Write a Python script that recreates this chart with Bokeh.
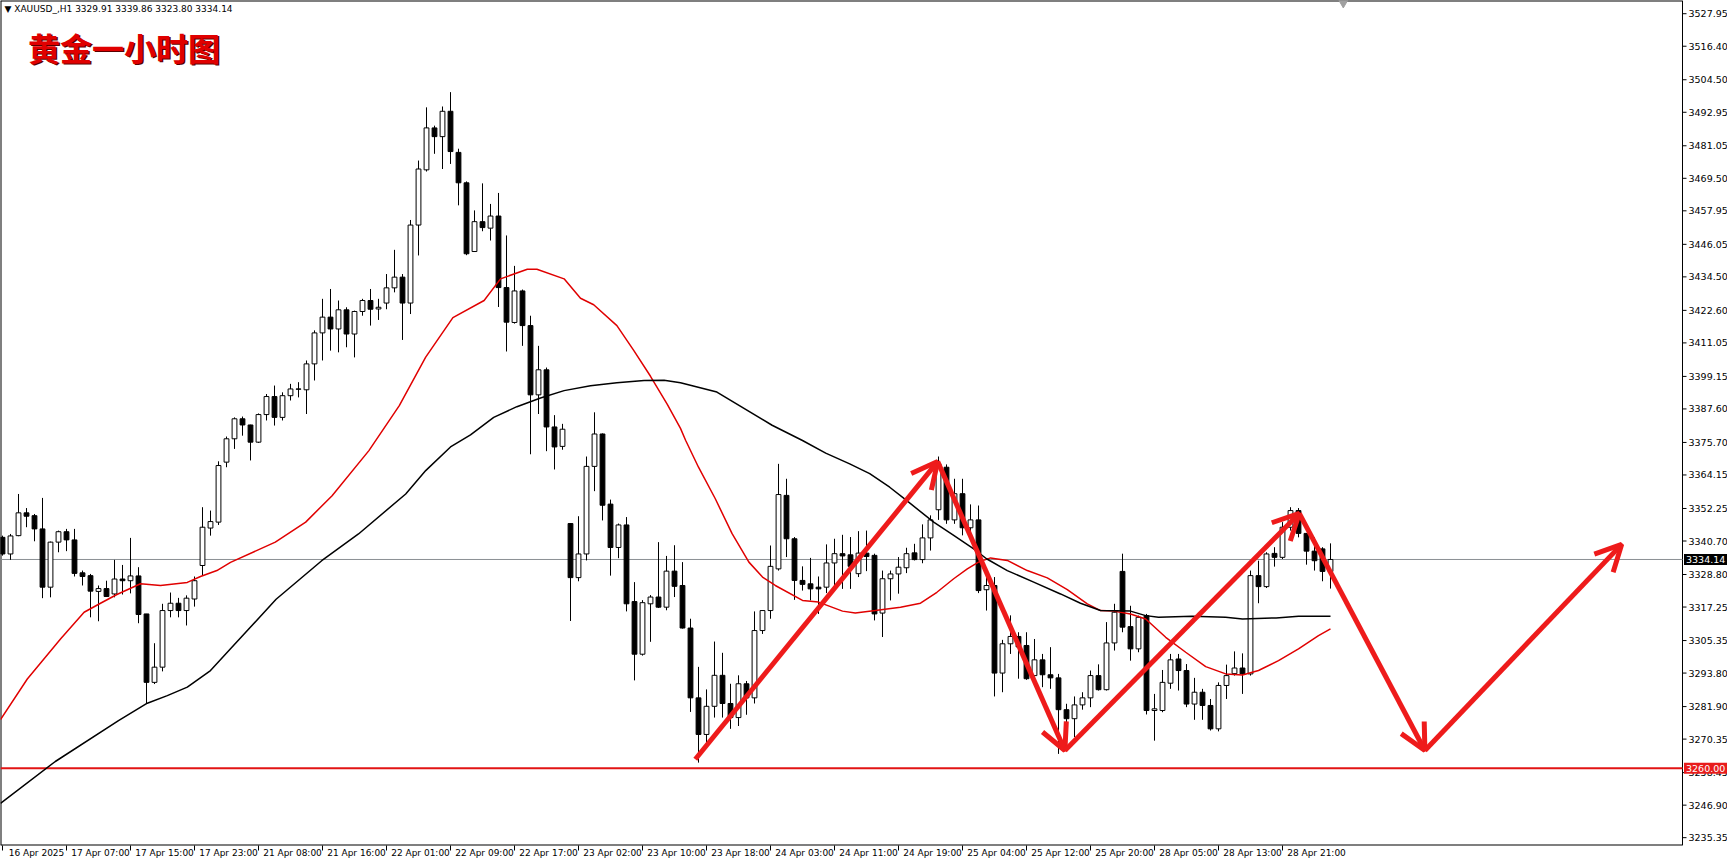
from bokeh.plotting import figure
from bokeh.models import (ColumnDataSource, FixedTicker, CustomJSTickFormatter,
                          Label, Arrow, OpenHead)
from bokeh.core.properties import value
from bokeh.embed import file_html
from bokeh.resources import INLINE

# ---------------- data ----------------
opens = [3342.0, 3336.1, 3342.6, 3350.7, 3349.7, 3345.0, 3324.3, 3340.3, 3344.0, 3341.1,
         3329.4, 3328.4, 3322.8, 3323.8, 3321.9, 3327.2, 3326.6, 3328.3, 3314.8, 3290.5,
         3295.9, 3316.0, 3318.6, 3316.0, 3320.1, 3332.0, 3345.3, 3347.4, 3368.7, 3377.0,
         3384.1, 3381.9, 3375.8, 3385.6, 3392.0, 3384.6, 3392.3, 3394.7, 3394.4, 3403.6,
         3414.6, 3420.2, 3416.0, 3422.8, 3414.2, 3422.2, 3426.1, 3423.1, 3425.2, 3430.6,
         3434.4, 3425.2, 3452.9, 3472.5, 3487.4, 3484.3, 3493.3, 3478.7, 3467.9, 3443.5,
         3454.1, 3451.8, 3456.1, 3430.7, 3418.3, 3429.5, 3417.2, 3392.6, 3401.5, 3381.2,
         3374.3, 3346.9, 3327.7, 3336.1, 3367.2, 3378.7, 3353.8, 3338.4, 3346.4, 3319.2,
         3300.5, 3318.4, 3320.8, 3317.2, 3330.0, 3324.9, 3309.8, 3285.0, 3272.0, 3282.0,
         3293.0, 3283.0, 3278.0, 3290.0, 3285.0, 3308.9, 3316.0, 3330.8, 3356.9, 3341.5,
         3326.7, 3325.5, 3324.3, 3324.3, 3332.9, 3336.2, 3335.8, 3329.1, 3336.4, 3335.6,
         3315.1, 3327.3, 3329.0, 3331.2, 3336.5, 3334.1, 3341.8, 3351.8, 3366.9, 3348.2,
         3357.5, 3345.4, 3348.2, 3323.4, 3324.9, 3293.8, 3304.2, 3306.8, 3303.6, 3292.9,
         3298.5, 3293.2, 3292.1, 3280.8, 3277.6, 3282.5, 3285.0, 3292.9, 3287.9, 3304.5,
         3329.9, 3310.3, 3302.4, 3314.2, 3280.5, 3280.5, 3290.2, 3298.8, 3294.7, 3282.8,
         3287.0, 3282.3, 3274.0, 3289.4, 3293.6, 3295.6, 3293.5, 3328.4, 3324.5, 3336.3,
         3334.9, 3345.6, 3351.5, 3343.4, 3337.1, 3337.9, 3329.91]
highs = [3342.6, 3343.2, 3357.4, 3352.4, 3350.3, 3356.0, 3340.5, 3344.4, 3345.0, 3345.0,
         3330.2, 3329.0, 3324.9, 3326.6, 3334.0, 3332.2, 3341.8, 3331.4, 3314.8, 3304.4,
         3318.4, 3322.4, 3320.5, 3321.4, 3328.1, 3352.7, 3351.5, 3369.0, 3377.8, 3384.6,
         3384.9, 3382.0, 3386.0, 3392.9, 3395.9, 3393.5, 3396.5, 3397.1, 3404.8, 3415.5,
         3426.7, 3430.2, 3426.1, 3423.7, 3422.5, 3426.7, 3430.2, 3426.7, 3435.5, 3444.1,
         3435.5, 3454.7, 3475.8, 3494.7, 3488.2, 3495.0, 3500.1, 3480.0, 3468.4, 3458.1,
         3467.7, 3460.4, 3464.3, 3449.2, 3438.4, 3430.0, 3420.7, 3410.0, 3402.3, 3385.4,
         3382.3, 3346.9, 3349.5, 3370.7, 3386.4, 3378.9, 3355.4, 3346.9, 3349.2, 3326.1,
         3319.7, 3321.5, 3340.3, 3335.4, 3339.2, 3333.2, 3313.1, 3296.0, 3288.0, 3305.0,
         3301.0, 3290.0, 3293.0, 3291.0, 3315.7, 3316.0, 3339.1, 3368.1, 3362.8, 3342.1,
         3331.7, 3334.7, 3328.1, 3339.5, 3341.5, 3342.9, 3342.1, 3344.2, 3344.4, 3336.2,
         3330.2, 3330.2, 3335.0, 3338.3, 3339.7, 3346.6, 3349.8, 3370.7, 3367.9, 3362.8,
         3362.8, 3353.7, 3353.3, 3328.0, 3327.9, 3305.6, 3314.3, 3308.3, 3308.3, 3305.9,
         3300.6, 3303.0, 3293.5, 3282.9, 3285.5, 3287.0, 3294.7, 3296.9, 3311.9, 3318.4,
         3336.2, 3317.7, 3314.2, 3314.8, 3286.4, 3294.9, 3300.6, 3300.6, 3297.0, 3292.1,
         3288.2, 3284.6, 3290.5, 3296.8, 3301.5, 3300.8, 3330.2, 3333.7, 3336.7, 3338.5,
         3347.4, 3352.7, 3352.4, 3343.5, 3342.0, 3338.5, 3339.86]
lows = [3335.5, 3334.0, 3342.4, 3345.6, 3340.6, 3320.4, 3320.7, 3336.7, 3337.1, 3328.1,
        3324.9, 3313.6, 3312.2, 3321.0, 3320.7, 3321.7, 3322.1, 3311.5, 3282.8, 3289.9,
        3294.4, 3313.6, 3313.6, 3310.7, 3317.4, 3328.4, 3342.6, 3346.4, 3366.9, 3373.4,
        3378.1, 3369.3, 3375.5, 3383.5, 3381.7, 3383.5, 3390.6, 3391.7, 3385.8, 3397.7,
        3404.8, 3408.3, 3407.7, 3409.5, 3405.9, 3420.7, 3417.2, 3419.2, 3423.0, 3429.0,
        3412.1, 3421.3, 3442.1, 3471.9, 3478.2, 3472.8, 3474.6, 3459.9, 3442.2, 3443.5,
        3450.7, 3447.4, 3423.8, 3408.0, 3417.9, 3410.0, 3371.5, 3385.8, 3372.6, 3366.1,
        3373.1, 3312.3, 3326.4, 3333.8, 3358.4, 3348.0, 3328.4, 3334.6, 3315.7, 3291.2,
        3300.0, 3304.9, 3316.9, 3316.1, 3320.8, 3309.6, 3280.0, 3262.0, 3268.0, 3278.0,
        3278.0, 3274.0, 3275.0, 3279.0, 3283.0, 3307.7, 3313.1, 3330.2, 3335.0, 3319.8,
        3323.1, 3319.6, 3314.8, 3322.2, 3324.3, 3323.7, 3323.7, 3327.9, 3330.0, 3312.5,
        3306.6, 3319.6, 3322.0, 3329.3, 3333.8, 3332.8, 3337.3, 3348.2, 3346.8, 3346.8,
        3342.7, 3344.2, 3322.2, 3316.0, 3285.5, 3287.0, 3300.6, 3291.8, 3291.4, 3291.2,
        3288.8, 3288.2, 3265.1, 3270.0, 3271.1, 3280.8, 3281.7, 3287.6, 3287.6, 3301.8,
        3308.3, 3298.2, 3301.2, 3279.1, 3269.8, 3279.9, 3288.2, 3287.6, 3281.7, 3277.2,
        3277.2, 3273.4, 3273.1, 3284.6, 3292.9, 3286.4, 3292.9, 3318.6, 3324.0, 3331.6,
        3334.3, 3344.4, 3342.0, 3332.3, 3330.2, 3326.4, 3323.80]
closes = [3336.1, 3342.5, 3350.7, 3349.5, 3345.0, 3324.3, 3340.3, 3344.0, 3341.1, 3329.2,
          3328.1, 3322.9, 3323.8, 3321.0, 3327.2, 3326.6, 3328.3, 3314.6, 3290.5, 3295.9,
          3316.0, 3318.6, 3316.0, 3320.4, 3326.6, 3345.6, 3347.6, 3367.5, 3377.0, 3384.1,
          3381.9, 3375.8, 3385.6, 3392.0, 3384.6, 3392.3, 3394.7, 3394.6, 3403.6, 3414.6,
          3420.2, 3416.0, 3422.8, 3414.2, 3422.2, 3426.1, 3423.0, 3423.7, 3430.6, 3434.4,
          3425.2, 3452.9, 3472.8, 3487.4, 3484.3, 3493.3, 3479.0, 3467.9, 3442.7, 3454.1,
          3452.0, 3456.1, 3430.7, 3418.4, 3429.5, 3417.2, 3392.6, 3401.5, 3381.2, 3374.1,
          3380.4, 3327.7, 3336.1, 3367.2, 3378.7, 3353.4, 3338.4, 3346.4, 3318.4, 3300.5,
          3318.8, 3320.8, 3317.2, 3330.0, 3324.6, 3309.8, 3285.0, 3272.0, 3282.0, 3293.0,
          3283.0, 3278.0, 3290.0, 3285.0, 3308.9, 3316.0, 3331.7, 3357.2, 3341.5, 3326.7,
          3325.3, 3323.7, 3323.7, 3332.9, 3336.2, 3335.4, 3331.7, 3336.4, 3335.2, 3314.8,
          3327.3, 3329.0, 3331.4, 3336.2, 3334.1, 3341.8, 3348.2, 3368.1, 3348.2, 3357.5,
          3345.4, 3348.2, 3323.1, 3324.9, 3293.8, 3304.2, 3306.8, 3303.1, 3291.8, 3298.5,
          3293.2, 3292.1, 3280.8, 3277.6, 3282.5, 3285.0, 3292.9, 3287.9, 3304.5, 3315.4,
          3310.1, 3302.4, 3313.6, 3280.5, 3281.1, 3290.5, 3298.5, 3294.7, 3282.8, 3287.0,
          3282.3, 3274.0, 3289.4, 3292.9, 3295.6, 3293.5, 3328.4, 3324.5, 3336.1, 3334.9,
          3345.6, 3351.5, 3343.4, 3337.1, 3333.7, 3329.9, 3334.14]

# moving averages (sampled: bar position, price)
red_ma_x = [-0.25, 3.1, 7.25, 10.2, 12.25, 14.3, 17.25, 19.75, 23.1, 24.75, 26.8, 28.5, 34.1, 37.9,
            41.2, 45.8, 49.6, 52.9, 56.3, 60.2, 62.25, 65.6, 66.8, 70.2, 72.25, 73.9, 76.8, 78.9,
            81, 83.1, 84.75, 85.4, 87, 89.1, 91.2, 93.3, 95, 96.6, 100, 102, 105, 106.6, 109.1,
            112.25, 114.75, 116.8, 118.9, 120.6, 122, 123.5, 125.6, 128.1, 130.6, 133.1, 135.6,
            137.25, 138.9, 141, 142.9, 145.4, 147.9, 150.4, 152.9, 155, 157, 159.5, 162, 164.5, 166]
red_ma_y = [3277.3, 3291.7, 3305.9, 3315.4, 3318.6, 3321.7, 3325.5, 3324.9, 3326.0, 3328.1, 3330.2,
            3333.1, 3340.3, 3347.4, 3356.8, 3372.8, 3388.8, 3406.0, 3420.0, 3426.1, 3433.8, 3437.2,
            3437.2, 3433.8, 3426.9, 3424.6, 3417.2, 3408.4, 3399.2, 3389.2, 3380.7, 3376.4, 3366.9,
            3355.7, 3343.3, 3333.2, 3327.9, 3324.9, 3319.6, 3319.0, 3315.8, 3315.1, 3316.0, 3317.2,
            3318.6, 3322.5, 3327.3, 3330.8, 3333.2, 3334.7, 3333.8, 3330.2, 3327.6, 3323.4, 3318.4,
            3316.0, 3315.8, 3314.8, 3313.0, 3306.5, 3301.2, 3296.1, 3293.5, 3293.1, 3294.7, 3298.2,
            3302.4, 3307.1, 3309.5]
black_ma_x = [-0.25, 6.6, 14.5, 18.1, 20.6, 23.1, 26, 28.5, 34.2, 39.9, 44.5, 50.4, 52.9, 56, 58.5,
              61.4, 64.3, 67.25, 70.2, 73.5, 76.8, 80.2, 82.7, 84.75, 89.3, 96.2, 100, 102.9, 105.9,
              108.4, 110.9, 113, 116.4, 118.9, 121.4, 123, 125.6, 128.9, 132.25, 134.75, 137.25,
              141, 142.9, 144.5, 148.7, 152.9, 155, 159.2, 162, 166]
black_ma_y = [3247.5, 3262.4, 3276.9, 3283.1, 3285.8, 3288.8, 3294.7, 3302.4, 3320.0, 3333.7, 3343.2,
              3357.4, 3365.7, 3374.1, 3378.4, 3384.6, 3388.4, 3391.5, 3394.1, 3395.8, 3396.9, 3397.7,
              3397.8, 3396.9, 3393.6, 3381.8, 3376.4, 3371.9, 3368.1, 3364.6, 3359.8, 3355.1, 3347.4,
              3342.7, 3337.9, 3334.4, 3330.2, 3326.1, 3321.9, 3318.6, 3316.0, 3315.8, 3314.2, 3313.6,
              3314.0, 3313.6, 3313.0, 3313.4, 3314.0, 3314.0]

x_tick_bars = [0, 8, 16, 24, 32, 40, 48, 56, 64, 72, 80, 88, 96, 104, 112, 120, 128, 136, 144, 152, 160]
x_tick_labels = ["16 Apr 2025", "17 Apr 07:00", "17 Apr 15:00", "17 Apr 23:00", "21 Apr 08:00",
                 "21 Apr 16:00", "22 Apr 01:00", "22 Apr 09:00", "22 Apr 17:00", "23 Apr 02:00",
                 "23 Apr 10:00", "23 Apr 18:00", "24 Apr 03:00", "24 Apr 11:00", "24 Apr 19:00",
                 "25 Apr 04:00", "25 Apr 12:00", "25 Apr 20:00", "28 Apr 05:00", "28 Apr 13:00",
                 "28 Apr 21:00"]
y_ticks = [3527.95, 3516.40, 3504.50, 3492.95, 3481.05, 3469.50, 3457.95, 3446.05, 3434.50, 3422.60,
           3411.05, 3399.15, 3387.60, 3375.70, 3364.15, 3352.25, 3340.70, 3328.80, 3317.25, 3305.35,
           3293.80, 3281.90, 3270.35, 3258.45, 3246.90, 3235.35]

current_price = 3334.14
support_price = 3260.00
header_text = "XAUUSD_,H1  3329.91 3339.86 3323.80 3334.14"
title_text = "黄金一小时图"

# hand-drawn arrows: (bar, price) path
arrow_x = [86.6, 116.9, 132.8, 162.1, 177.8, 202.4]
arrow_y = [3263.2, 3368.9, 3266.3, 3350.5, 3266.3, 3339.5]

# ---------------- figure ----------------
ppb = 8.0                   # pixels per bar
PW = 1682                   # width of the chart area inside the frame
FW, FH = 1727, 845          # frame includes the price-scale strip on the right
X0 = -0.25
XR = X0 + PW / ppb
X1 = X0 + FW / ppb
ppu = 2.816                 # pixels per price unit
Y1 = 3532.64
Y0 = Y1 - FH / ppu

p = figure(frame_width=FW, frame_height=FH, x_range=(X0, X1), y_range=(Y0, Y1),
           y_axis_location=None, output_backend="svg", toolbar_location=None,
           min_border_left=0, min_border_top=0, min_border_right=0, min_border_bottom=0,
           background_fill_color="white", border_fill_color="white")
p.outline_line_color = None
p.xgrid.visible = False
p.ygrid.visible = False

# time axis: labels to the right of their tick marks
lbl_off = 34 / ppb
xa = p.xaxis[0]
xa.ticker = FixedTicker(ticks=[b + lbl_off for b in x_tick_bars], minor_ticks=x_tick_bars)
xa.formatter = CustomJSTickFormatter(args=dict(labels=x_tick_labels, off=lbl_off),
                                     code="const i = Math.round((tick - off) / 8); return labels[i] || '';")
xa.major_tick_out = 0
xa.major_tick_in = 0
xa.minor_tick_out = 5
xa.minor_tick_in = 0
xa.axis_line_color = None
xa.minor_tick_line_color = "black"
xa.major_label_text_font = "DejaVu Sans"
xa.major_label_text_font_size = "9px"
xa.major_label_text_color = "black"
xa.major_label_standoff = -3

# chart frame (left, top, bottom, right of the chart area)
p.segment(x0=[X0, X0, X0, XR], y0=[Y0, Y1, Y0, Y0], x1=[X0, XR, XR, XR], y1=[Y1, Y1, Y0, Y1],
          line_color="black", line_width=[2, 2, 2, 1])

# price scale on the right
ny = len(y_ticks)
p.segment(x0=[XR] * ny, y0=y_ticks, x1=[XR + 4 / ppb] * ny, y1=y_ticks, line_color="black", line_width=1)
p.text(x=[XR + 6 / ppb] * ny, y=y_ticks, text=["%.2f" % v for v in y_ticks],
       text_font=value("DejaVu Sans"), text_font_size="9.5px", text_color="black",
       text_baseline="middle", text_align="left")

# price lines
p.segment(x0=[X0], y0=[current_price], x1=[XR], y1=[current_price], line_color="#8a8f94", line_width=1)
p.segment(x0=[X0], y0=[support_price], x1=[XR], y1=[support_price], line_color="#e21414", line_width=2)

# candles
n = len(opens)
xs = list(range(n))
tops = [max(o, c) for o, c in zip(opens, closes)]
bots = [min(o, c) for o, c in zip(opens, closes)]
fills = ["white" if c >= o else "black" for o, c in zip(opens, closes)]
src = ColumnDataSource(dict(x=xs, o=opens, h=highs, l=lows, c=closes, top=tops, bottom=bots, fill=fills))
p.segment(x0="x", y0="l", x1="x", y1="h", source=src, line_color="black", line_width=1)
p.vbar(x="x", width=0.6, top="top", bottom="bottom", source=src, fill_color="fill",
       line_color="black", line_width=1)

# moving averages
p.line(red_ma_x, red_ma_y, line_color="#e00000", line_width=1.5)
p.line(black_ma_x, black_ma_y, line_color="black", line_width=1.5)

# arrows
for i in range(len(arrow_x) - 1):
    p.add_layout(Arrow(end=OpenHead(size=26, line_color="#ee1b1b", line_width=5),
                       x_start=arrow_x[i], y_start=arrow_y[i], x_end=arrow_x[i + 1], y_end=arrow_y[i + 1],
                       line_color="#ee1b1b", line_width=5))

# chart-shift marker at top
p.scatter([167.6], [Y1 - 0.8], marker="inverted_triangle", size=9, fill_color="#a0a0a0", line_color="#a0a0a0")

# header and title
p.add_layout(Label(x=X0, y=Y1, x_offset=4, y_offset=-3, text="\u25bc " + header_text,
                   text_font="DejaVu Sans", text_font_size="9px", text_color="black",
                   text_baseline="top", text_align="left"))
p.add_layout(Label(x=3.2, y=3516.3, x_offset=1.5, y_offset=-1.5, text=title_text,
                   text_font="Noto Sans CJK SC", text_font_style="bold", text_font_size="32px",
                   text_color="#5a0000", text_baseline="middle", text_align="left"))
p.add_layout(Label(x=3.2, y=3516.3, text=title_text,
                   text_font="Noto Sans CJK SC", text_font_style="bold", text_font_size="32px",
                   text_color="#e00000", text_baseline="middle", text_align="left"))

# price tags on the scale
tag_x = XR + 1.5 / ppb
p.add_layout(Label(x=tag_x, y=current_price, text="%.2f" % current_price, text_font="DejaVu Sans",
                   text_font_size="9.5px", text_color="white", text_baseline="middle", text_align="left",
                   background_fill_color="black", padding=2))
p.add_layout(Label(x=tag_x, y=support_price, text="%.2f" % support_price, text_font="DejaVu Sans",
                   text_font_size="9.5px", text_color="white", text_baseline="middle", text_align="left",
                   background_fill_color="#e81c1c", padding=2))

open("out.html", "w").write(file_html(p, INLINE))
